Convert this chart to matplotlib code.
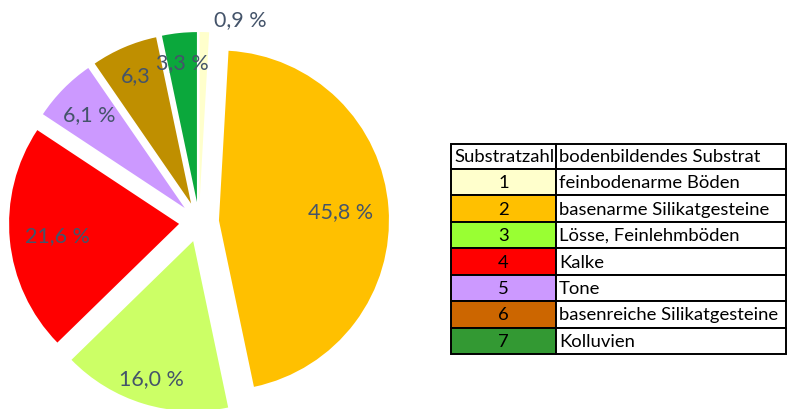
import numpy as np
import matplotlib
matplotlib.use('Agg')
import matplotlib.pyplot as plt
from matplotlib.patches import Rectangle

plt.rcParams['font.family'] = ['Lato', 'DejaVu Sans']

# anteile der substrate (%), im uhrzeigersinn ab 12 uhr
shares = [0.9, 45.8, 16.0, 21.6, 6.1, 6.3, 3.3]
pie_labels = ['0,9 %', '45,8 %', '16,0 %', '21,6 %', '6,1 %', '6,3', '3,3 %']
pie_colors = ['#FFFFCC', '#FFC000', '#CCFF66', '#FF0000', '#CC99FF', '#BF8F00', '#0BA83C']

# legende / tabelle
tab_head = ['Substratzahl', 'bodenbildendes Substrat']
tab_nums = ['1', '2', '3', '4', '5', '6', '7']
tab_names = ['feinbodenarme Böden', 'basenarme Silikatgesteine', 'Lösse, Feinlehmböden',
             'Kalke', 'Tone', 'basenreiche Silikatgesteine', 'Kolluvien']
tab_colors = ['#FFFFCC', '#FFC000', '#99FF33', '#FF0000', '#CC99FF', '#CC6600', '#339933']

W, H = 787, 410
fig = plt.figure(figsize=(W/100, H/100), dpi=100)
ax = fig.add_axes([0, 0, 1, 1])

# pie in pixel-koordinaten
cx, cy, r = 199, H - 223, 170
wedges, texts, autotexts = ax.pie(shares, colors=pie_colors, startangle=90, counterclock=False,
                                  explode=[20]*7, center=(cx, cy), radius=r,
                                  autopct='%1.1f', wedgeprops=dict(linewidth=0))

# label position: abstand (anteil radius) und winkelversatz
lab_dist = [1.10, 0.72, 0.84, 0.72, 0.79, 0.82, 0.83]
lab_dang = [-11, 0, 0, 0, 0, 0, 0]
for w, t, lab, d, da in zip(wedges, autotexts, pie_labels, lab_dist, lab_dang):
    th = np.deg2rad((w.theta1 + w.theta2) / 2 + da)
    x0, y0 = w.center
    t.set_position((x0 + d*r*np.cos(th), y0 + d*r*np.sin(th)))
    t.set_text(lab)
    t.set_color('#44546A')
    t.set_fontsize(15.5)
    t.set_ha('center'); t.set_va('center')

# tabelle
x0, x1, x2 = 451, 556, 786
top, hh = 145, 25
rh = (355 - top - hh) / 7
fs = 13.3

def ypix(y):
    return H - y

ax.add_patch(Rectangle((x0, ypix(top + hh)), x2 - x0, hh, fc='white', ec='black', lw=1.4))
ax.text(x0 + 3, ypix(top + hh/2), tab_head[0], ha='left', va='center', fontsize=fs)
ax.text(x1 + 3, ypix(top + hh/2), tab_head[1], ha='left', va='center', fontsize=fs)
for i, (n, name, c) in enumerate(zip(tab_nums, tab_names, tab_colors)):
    yt = top + hh + i*rh
    ax.add_patch(Rectangle((x0, ypix(yt + rh)), x1 - x0, rh, fc=c, ec='black', lw=1.4))
    ax.add_patch(Rectangle((x1, ypix(yt + rh)), x2 - x1, rh, fc='white', ec='black', lw=1.4))
    ax.text((x0 + x1)/2, ypix(yt + rh/2), n, ha='center', va='center', fontsize=fs)
    ax.text(x1 + 3, ypix(yt + rh/2), name, ha='left', va='center', fontsize=fs)
ax.plot([x1, x1], [ypix(top), ypix(top + hh)], c='black', lw=1.4)

ax.set_xlim(0, W)
ax.set_ylim(0, H)
ax.set_aspect('equal')
ax.axis('off')

fig.savefig('out.png', dpi=100)
